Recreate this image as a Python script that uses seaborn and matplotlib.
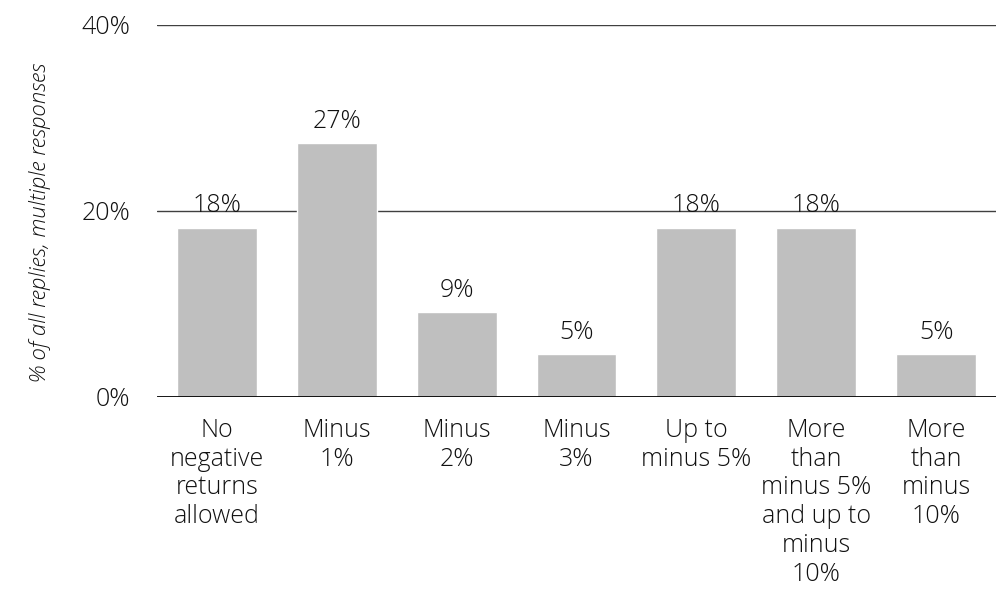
import matplotlib
matplotlib.use("Agg")
import matplotlib.pyplot as plt
import seaborn as sns
import pandas as pd

categories = ["No\nnegative\nreturns\nallowed", "Minus\n1%", "Minus\n2%", "Minus\n3%",
              "Up to\nminus 5%", "More\nthan\nminus 5%\nand up to\nminus\n10%", "More\nthan\nminus\n10%"]
values = [18.2, 27.3, 9.1, 4.6, 18.2, 18.2, 4.6]
yticks = [0, 20, 40]
ytick_labels = ["0%", "20%", "40%"]

sns.set_theme(style="white")
plt.rcParams['font.family'] = ['Open Sans', 'DejaVu Sans']

FS = 18
TC = "#111111"
df = pd.DataFrame({"cat": categories, "val": values})
fig = plt.figure(figsize=(9.96, 5.89), dpi=100)
ax = fig.add_axes([0.1576, 0.326, 0.8424, 0.6316])

sns.barplot(data=df, x="cat", y="val", color="#bfbfbf", width=0.667, ax=ax,
            saturation=1, zorder=2)

ax.set_ylim(0, 40)
ax.set_xlim(-0.5, 6.5)
for y in [20, 40]:
    ax.axhline(y, color="#404040", lw=1, zorder=1)
ax.axhline(0, color="black", lw=2, zorder=3)

for i, v in enumerate(values):
    ax.text(i, v + 1.0, f"{int(v + 0.5)}%", ha="center", va="bottom", fontsize=FS,
            fontweight="light", color=TC)

ax.set_yticks(yticks)
ax.set_yticklabels(ytick_labels, fontsize=FS, fontweight="light", color=TC)
ax.set_xticks(range(len(categories)))
ax.set_xticklabels(categories, fontsize=FS, fontweight="light", color=TC,
                   linespacing=1.2)
ax.tick_params(axis="y", length=0, pad=19)
ax.tick_params(axis="x", length=0, pad=15)
for s in ax.spines.values():
    s.set_visible(False)
ax.set_xlabel("")
ax.set_ylabel("% of all replies, multiple responses", fontsize=16, style="italic",
              fontweight="light", color=TC)
ax.yaxis.set_label_coords(-0.126, 0.47)

fig.savefig("out.png", dpi=100)
